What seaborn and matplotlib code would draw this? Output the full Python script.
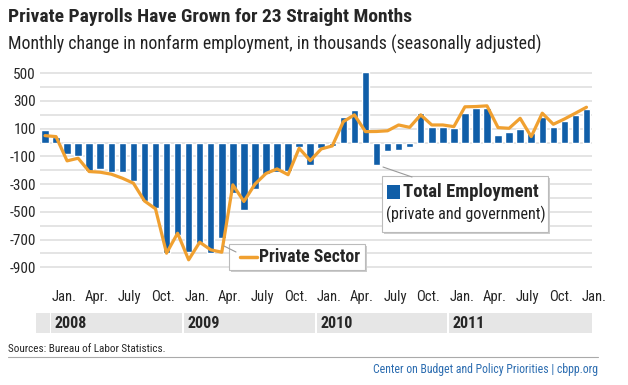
import matplotlib
matplotlib.use("Agg")
import matplotlib.pyplot as plt
import seaborn as sns
import pandas as pd
from matplotlib import font_manager
from matplotlib.patches import Rectangle
from matplotlib.lines import Line2D

# monthly change, thousands, Dec 2007 .. Jan 2012
months = pd.period_range("2007-12", "2012-01", freq="M").astype(str)
total_employment = [89, 40, -84, -96, -204, -192, -209, -214, -276, -425, -475, -800,
                    -666, -790, -725, -798, -690, -365, -485, -335, -225, -215, -205, -35,
                    -165, -38, -28, 188, 236, 512, -161, -60, -53, -29, 216, 115,
                    115, 108, 212, 248, 248, 55, 79, 96, 67, 188, 115, 156,
                    200, 240]
private_sector = [50, 43, -132, -113, -209, -214, -228, -257, -293, -421, -478, -798,
                  -654, -846, -719, -774, -791, -305, -425, -300, -223, -190, -232, -41,
                  -130, -46, -24, 151, 200, 79, 80, 85, 127, 110, 200, 127,
                  127, 115, 258, 260, 265, 108, 103, 175, 43, 212, 132, 170,
                  212, 255]
tick_labels = ["Jan.", "Apr.", "July", "Oct."] * 4 + ["Jan."]
years = ["2008", "2009", "2010", "2011"]

BLUE = "#105ea8"
ORANGE = "#f0a030"

sns.set_style("white")
names = {f.name for f in font_manager.fontManager.ttflist}
narrow = next((n for n in ["Liberation Sans Narrow", "DejaVu Sans Condensed", "Roboto Condensed"]
               if n in names), "DejaVu Sans")
plt.rcParams["font.family"] = [narrow, "DejaVu Sans"]

df = pd.DataFrame({"idx": range(len(months)), "month": months,
                   "total": total_employment, "private": private_sector})

fig = plt.figure(figsize=(6.28, 3.85), dpi=100)
W, H = 628, 385


def fx(x):
    return x / W


def fy(y):
    return 1 - y / H


ax = fig.add_axes([fx(40), fy(268), fx(592) - fx(40), fy(70.5) - fy(268)])
sns.barplot(data=df, x="idx", y="total", color=BLUE, width=0.68, saturation=1, ax=ax, zorder=2)
sns.lineplot(data=df, x="idx", y="private", color=ORANGE, lw=2.3, ax=ax, zorder=3)

ax.set_xlim(-0.45, 49.5)
ax.set_ylim(-905, 520)
ax.set_yticks(range(-900, 600, 100))
ax.set_yticklabels([str(v) if v % 200 else "" for v in range(-900, 600, 100)], fontsize=11)
ax.yaxis.grid(True, color="#dddddd", lw=1.1)
ax.set_axisbelow(True)
ax.tick_params(axis="both", length=0)
ax.tick_params(axis="y", pad=3)
tick_pos = [i - 0.4 for i in range(1, 50, 3)]
ax.set_xticks(tick_pos)
ax.set_xticklabels(tick_labels, fontsize=10.5, ha="left")
ax.tick_params(axis="x", pad=16)
ax.set_xlabel("")
ax.set_ylabel("")
sns.despine(ax=ax, left=True, bottom=True)

# year band
band = fig.add_axes([fx(40), fy(333), fx(592) - fx(40), fy(313) - fy(333)])
band.set_xlim(-0.45, 49.5)
band.set_ylim(0, 1)
band.axis("off")
edges = [-0.9, 0.5, 12.5, 24.5, 36.5, 49.6]
for k in range(len(edges) - 1):
    band.add_patch(Rectangle((edges[k] + 0.08, 0), edges[k + 1] - edges[k] - 0.16, 1,
                             color="#e6e6e6", clip_on=False, lw=0))
for k, yr in enumerate(years):
    band.text(edges[k + 1] + 0.4, 0.5, yr, fontsize=11.5, fontweight="bold", va="center", ha="left")

# titles
fig.text(fx(8), fy(17), "Private Payrolls Have Grown for 23 Straight Months",
         fontsize=14, fontweight="bold", va="center", ha="left")
fig.text(fx(8), fy(44), "Monthly change in nonfarm employment, in thousands (seasonally adjusted)",
         fontsize=12.8, va="center", ha="left", color="#222222")

# private sector callout
fig.add_artist(Line2D([fx(236), fx(224)], [fy(252), fy(246)], color="#999999", lw=0.8))
fig.add_artist(Rectangle((fx(231), fy(272)), fx(136), fy(0) - fy(26), facecolor="#cccccc", lw=0))
fig.add_artist(Rectangle((fx(229), fy(270)), fx(136), fy(0) - fy(26), facecolor="white",
                         edgecolor="#bbbbbb", lw=0.8))
fig.add_artist(Line2D([fx(240), fx(257)], [fy(257), fy(257)], color=ORANGE, lw=2.5))
fig.text(fx(259), fy(257), "Private Sector", fontsize=12.8, fontweight="bold", va="center", ha="left")

# total employment callout
fig.add_artist(Line2D([fx(383), fx(412)], [fy(167), fy(177)], color="#999999", lw=0.8))
fig.add_artist(Rectangle((fx(384), fy(234)), fx(166), fy(0) - fy(56), facecolor="#cccccc", lw=0))
fig.add_artist(Rectangle((fx(382), fy(232)), fx(166), fy(0) - fy(56), facecolor="white",
                         edgecolor="#bbbbbb", lw=0.8))
fig.add_artist(Rectangle((fx(387), fy(199)), fx(13), fy(0) - fy(14), facecolor=BLUE, lw=0))
fig.text(fx(403), fy(192), "Total Employment", fontsize=13.5, fontweight="bold", va="center", ha="left")
fig.text(fx(386), fy(214), "(private and government)", fontsize=11.6, va="center", ha="left",
         color="#222222")

# footer
fig.text(fx(8), fy(349), "Sources: Bureau of Labor Statistics.", fontsize=8, va="center", ha="left")
fig.add_artist(Line2D([fx(8), fx(598)], [fy(357), fy(357)], color="#aaaaaa", lw=0.8))
fig.text(fx(598), fy(369), "Center on Budget and Policy Priorities | cbpp.org", fontsize=8.5,
         va="center", ha="right", color="#2b6cb0")

fig.savefig("out.png", dpi=100)
